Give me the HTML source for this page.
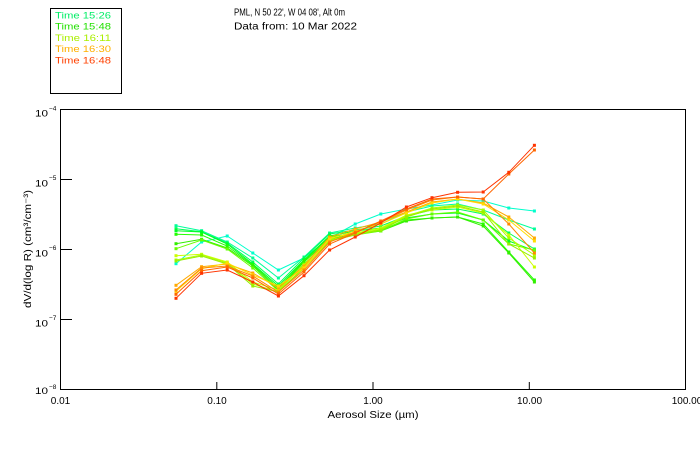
<!DOCTYPE html>
<html><head><meta charset="utf-8"><style>
html,body{margin:0;padding:0;background:#fff;}
svg{display:block;}
text{font-family:"Liberation Sans",sans-serif;fill:#000;}
</style></head><body>
<svg width="700" height="450" viewBox="0 0 700 450" xmlns="http://www.w3.org/2000/svg">
<rect x="0" y="0" width="700" height="450" fill="#fff"/>
<!-- legend box -->
<rect x="50.5" y="8.5" width="71" height="85" fill="none" stroke="#000" stroke-width="1"/>
<text x="55" y="18.3" font-size="9.5" textLength="56" lengthAdjust="spacingAndGlyphs" style="fill:#00ee66">Time 15:26</text>
<text x="55" y="29.6" font-size="9.5" textLength="56" lengthAdjust="spacingAndGlyphs" style="fill:#22e000">Time 15:48</text>
<text x="55" y="40.8" font-size="9.5" textLength="56" lengthAdjust="spacingAndGlyphs" style="fill:#aaee00">Time 16:11</text>
<text x="55" y="52" font-size="9.5" textLength="56" lengthAdjust="spacingAndGlyphs" style="fill:#ffb000">Time 16:30</text>
<text x="55" y="63.3" font-size="9.5" textLength="56" lengthAdjust="spacingAndGlyphs" style="fill:#ff4000">Time 16:48</text>
<!-- title -->
<text x="234" y="15.5" font-size="10" textLength="111" lengthAdjust="spacingAndGlyphs">PML, N 50 22', W 04 08', Alt 0m</text>
<text x="234" y="29.3" font-size="10" textLength="123" lengthAdjust="spacingAndGlyphs">Data from: 10 Mar 2022</text>
<!-- frame -->
<rect x="60.5" y="109.5" width="625" height="280" fill="none" stroke="#000" stroke-width="1"/>
<!-- y ticks -->
<g stroke="#000" stroke-width="1">
<line x1="60" y1="179.5" x2="72" y2="179.5"/>
<line x1="60" y1="249.5" x2="72" y2="249.5"/>
<line x1="60" y1="319.5" x2="72" y2="319.5"/>
<line x1="216.8" y1="389" x2="216.8" y2="382"/>
<line x1="373" y1="389" x2="373" y2="382"/>
<line x1="529.3" y1="389" x2="529.3" y2="382"/>
</g>
<!-- y labels -->
<g font-size="9.5">
<text x="35" y="116.5" textLength="13" lengthAdjust="spacingAndGlyphs">10</text><text x="49" y="110.5" font-size="6.5">−4</text>
<text x="35" y="186.3" textLength="13" lengthAdjust="spacingAndGlyphs">10</text><text x="49" y="180" font-size="6.5">−5</text>
<text x="35" y="256.3" textLength="13" lengthAdjust="spacingAndGlyphs">10</text><text x="49" y="250" font-size="6.5">−6</text>
<text x="35" y="326.3" textLength="13" lengthAdjust="spacingAndGlyphs">10</text><text x="49" y="320" font-size="6.5">−7</text>
<text x="35" y="394" textLength="13" lengthAdjust="spacingAndGlyphs">10</text><text x="49" y="389" font-size="6.5">−8</text>
</g>
<!-- x labels -->
<g font-size="10" text-anchor="middle">
<text x="60.5" y="404">0.01</text>
<text x="217" y="404">0.10</text>
<text x="373" y="404">1.00</text>
<text x="529.5" y="404">10.00</text>
<text x="687" y="404">100.00</text>
</g>
<text x="327.5" y="418" font-size="10" textLength="91" lengthAdjust="spacingAndGlyphs">Aerosol Size (µm)</text>
<text transform="translate(31,308) rotate(-90)" font-size="10" textLength="118" lengthAdjust="spacingAndGlyphs">dV/d(log R) (cm³/cm⁻³)</text>
<!-- data -->
<g id="series" fill="none" stroke-width="1"></g>
</svg>
<script>
var X=[176,201.6,227.2,252.8,278.4,304,329.6,355.2,380.8,406.4,432,457.6,483.2,508.8,534.4];
var S=[
["#00ffcc",[263.7,242,236,253,270,258,238,224,214,209,205,200,201,208,211]],
["#00ff99",[225.7,230.7,242,258,278,257,233,228,224,212,206,204,210,220,229]],
["#00ff55",[228.7,231.7,243,262,284,258,234,230,226,216,210,209,214,233,249]],
["#00ff22",[230.7,232,244,264,286,260,236,231,228,218,214,213,220,241,250.7]],
["#22ff00",[234.3,235,246,265,288,261,237,233,230,220,218,217,224,252,280]],
["#33ee00",[243.7,239.3,248,266,290,262,239,234,231,221,218,217,226,253,282]],
["#66ff00",[248.7,240,249,268,291,264,240,235,231,219,214,212,220,244,250]],
["#ccff00",[255.7,254.3,262,282,290,265,238,233,228,215,210,207,213,235,267]],
["#aaff00",[260,255,263,284,292,267,240,234,229,216,208,205,210,238,255]],
["#99ee00",[261,256,264,286,292,268,241,235,230,217,209,206,212,244,258]],
["#ffaa00",[285.3,266.7,264,273,288,266,237,229,222,212,202,199,203,217,238]],
["#ffdd00",[291.3,268.7,263,275,286,268,239,231,224,213,203,199,204,220,241]],
["#ff8800",[290,268,266,276,292,270,242,232,222,210,200,197,199,224,253]],
["#ff6600",[294.3,270.7,267,278,294,272,244,233,221,209,199,197,199,174,150]],
["#ff3300",[298.3,273.3,270,282,296,275.7,250,237,223,207,197.7,192.3,192,172.3,145.3]]
];
var g=document.getElementById('series'),ns="http://www.w3.org/2000/svg";
S.forEach(function(s){
 var p=document.createElementNS(ns,'polyline');
 p.setAttribute('points',X.map(function(x,i){return x+','+s[1][i];}).join(' '));
 p.setAttribute('stroke',s[0]);g.appendChild(p);
 X.forEach(function(x,i){var r=document.createElementNS(ns,'rect');
  r.setAttribute('x',x-1.5);r.setAttribute('y',s[1][i]-1.5);r.setAttribute('width',3);r.setAttribute('height',3);
  r.setAttribute('fill',s[0]);r.setAttribute('stroke','none');g.appendChild(r);});
});
</script>
</body></html>
